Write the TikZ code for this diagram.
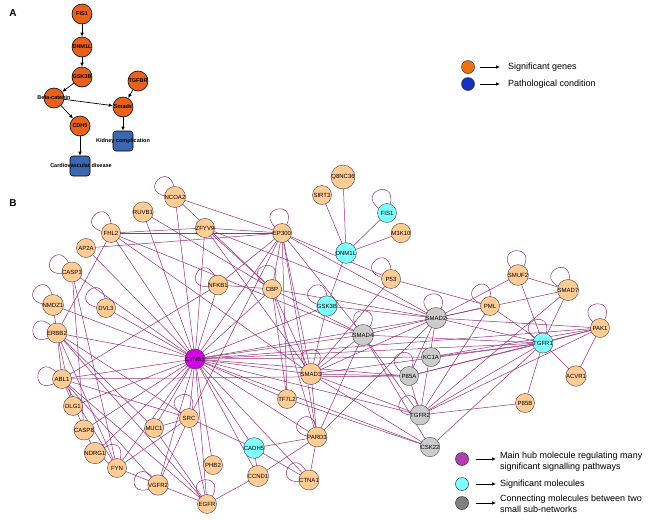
\documentclass[tikz,border=0pt]{standalone}
\usepackage{fontspec}
\setmainfont{Liberation Sans}
\usetikzlibrary{arrows.meta}
\definecolor{aorange}{RGB}{232,98,30}
\definecolor{ablue}{RGB}{60,104,178}
\definecolor{legorange}{RGB}{240,110,20}
\definecolor{legblue}{RGB}{20,50,190}
\definecolor{peach}{RGB}{255,204,150}
\definecolor{hubpurple}{RGB}{212,0,232}
\definecolor{cyanish}{RGB}{128,255,255}
\definecolor{grayish}{RGB}{204,204,204}
\definecolor{legpurple}{RGB}{176,64,176}
\definecolor{leggray}{RGB}{128,128,128}
\definecolor{edgecol}{RGB}{150,45,125}
\begin{document}
\begin{tikzpicture}[x=1pt,y=1pt,
  an/.style={circle,draw=black,line width=0.6pt,fill=aorange,minimum size=20pt,inner sep=0pt,font=\fontsize{5.5}{5.5}\selectfont\bfseries},
  arect/.style={rectangle,rounded corners=3pt,draw=black,line width=0.6pt,fill=ablue,minimum size=20pt,inner sep=0pt},
  alab/.style={font=\fontsize{5.5}{5.5}\selectfont\bfseries,inner sep=0pt},
  aarr/.style={draw=black,line width=0.7pt,-{Latex[length=4pt,width=3.5pt]}},
  gn/.style={circle,draw=black!75,line width=0.4pt,minimum size=19pt,inner sep=0pt,font=\fontsize{6}{6}\selectfont},
  og/.style={gn,fill=peach},
  hb/.style={gn,fill=hubpurple},
  cy/.style={gn,fill=cyanish},
  gy/.style={gn,fill=grayish},
  ed/.style={draw=edgecol,line width=0.5pt},
  legc/.style={circle,draw=black!80,line width=0.5pt,minimum size=13pt,inner sep=0pt},
  legarr/.style={draw=black,line width=0.7pt,-{Latex[length=4pt,width=3.5pt]}},
  legt/.style={font=\fontsize{9}{11}\selectfont,anchor=west,align=left,inner sep=0pt},
  plab/.style={font=\fontsize{10}{10}\selectfont\bfseries}
]
\useasboundingbox (0,0) rectangle (661,-520);

% ---------- Panel A ----------
\node[plab] (labA) at (13,-13) {A};
\node[an] (afis1) at (82,-14) {FIS1};
\node[an] (adnm1l) at (82,-47) {DNM1L};
\node[an] (agsk3b) at (82,-77) {GSK3B};
\node[an] (atgfbr) at (138,-81) {TGFBR};
\node[an] (abeta) at (54,-98) {};
\node[alab] (abetal) at (54,-98) {Beta-catenin};
\node[an] (asmads) at (123,-107) {Smads};
\node[an] (acdh5) at (80,-126) {CDH5};
\node[arect] (akid) at (123,-141) {};
\node[alab] (akidl) at (123,-141) {Kidney complication};
\node[arect] (acard) at (80,-166) {};
\node[alab] (acardl) at (81,-166) {Cardiovascular disease};
\draw[aarr] (afis1) -- (adnm1l);
\draw[aarr] (adnm1l) -- (agsk3b);
\draw[aarr] (agsk3b) -- (abeta);
\draw[aarr] (atgfbr) -- (asmads);
\draw[aarr] (abeta) -- (asmads);
\draw[aarr] (abeta) -- (acdh5);
\draw[aarr] (asmads) -- (akid);
\draw[aarr] (acdh5) -- (acard);

% legend A
\node[legc,fill=legorange] (lga1) at (468,-67) {};
\node[legc,fill=legblue] (lga2) at (468,-84) {};
\coordinate (lga1s) at (480,-67); \coordinate (lga1e) at (500,-67);
\coordinate (lga2s) at (480,-84); \coordinate (lga2e) at (500,-84);
\draw[legarr] (lga1s) -- (lga1e);
\draw[legarr] (lga2s) -- (lga2e);
\node[legt] (lgat1) at (508,-67) {Significant genes};
\node[legt] (lgat2) at (508,-84) {Pathological condition};

% ---------- Panel B ----------
\node[plab] (labB) at (13,-203) {B};

\foreach \n/\x/\y in {ncoa2/175/197, ruvb1/143/212, zfyv9/205/228, fhl2/111/233, ap2a/86/248,
  casp3/72/272, nfkb1/218/285, nmdz1/53/305, dvl3/106/308, erbb2/57/333, ctnb1/195/359,
  abl1/62/379, dlg1/73/406, src/189/418, muc1/154/428, casp8/84/430, ndrg1/95/453, fyn/117/468,
  phb2/213/465, vgfr2/158/485, egfr/207/504, cadh5/254/448, ccnd1/258/476, ctna1/309/480,
  pard3/317/437, tf7l2/287/399, smad3/311/374, q8nc36/343/177, sirt3/322/195, fis1/387/213,
  m3k10/401/233, ep300/282/233, dnm1l/346/253, p53/391/279, cbp/272/289, gsk3b/327/306,
  smad4/363/335, smad2/436/318, kc1a/431/357, p85a/409/376, tgfr2/420/415, csk22/430/447,
  smuf2/518/275, smad7/568/290, pml/490/306, pak1/600/328, tgfr1/543/343, acvr1/576/376,
  p85b/525/403}
  {\coordinate (c\n) at (\x,-\y);}

% edges
\foreach \t in {ncoa2,ruvb1,zfyv9,fhl2,ap2a,casp3,nfkb1,nmdz1,dvl3,erbb2,abl1,dlg1,casp8,ndrg1,
  fyn,muc1,src,vgfr2,egfr,phb2,cadh5,ccnd1,ctna1,pard3,tf7l2,smad3,smad4,cbp,ep300,gsk3b,
  smad2,p85a,tgfr2,csk22,tgfr1,pak1,kc1a}
  {\draw[ed] (cctnb1) -- (c\t);}
\foreach \a/\b in {fhl2/zfyv9, fhl2/ep300, fhl2/erbb2, fhl2/smad4, fhl2/smad3,
  ap2a/ep300, ncoa2/ep300, ncoa2/cbp, ruvb1/cbp,
  zfyv9/ep300, zfyv9/smad2, zfyv9/smad3, zfyv9/cbp,
  nfkb1/ep300, nfkb1/abl1, nfkb1/cbp,
  ep300/smad3, ep300/smad2, ep300/smad4, ep300/cbp, ep300/tf7l2, ep300/p53, ep300/src, ep300/pard3,
  cbp/smad3, cbp/smad2, cbp/smad4, cbp/tf7l2, cbp/pard3,
  dnm1l/fis1, dnm1l/sirt3, dnm1l/q8nc36, dnm1l/m3k10, dnm1l/gsk3b,
  gsk3b/smad2, gsk3b/smad3, p53/pml, p53/smad3,
  smad4/smad2, smad4/smad3, smad4/tgfr1, smad4/tgfr2, smad4/pard3, smad4/csk22,
  smad2/smad3, smad2/tgfr1, smad2/tgfr2, smad2/pak1, smad2/smuf2, smad2/smad7, smad2/pml,
  smad2/p85a, smad2/pard3,
  pml/tgfr1, pml/tgfr2, smuf2/smad7, smuf2/tgfr1, smad7/tgfr1, smad7/tgfr2,
  pak1/tgfr1, pak1/acvr1, pak1/tgfr2, pak1/p85a, pak1/kc1a,
  tgfr1/acvr1, tgfr1/p85b, tgfr1/tgfr2, tgfr1/p85a, tgfr1/kc1a, tgfr1/csk22, tgfr1/smad3,
  tgfr2/p85b, tgfr2/p85a, tgfr2/smad3, csk22/smad3, csk22/tf7l2,
  p85a/smad3, p85a/abl1, smad3/pard3,
  pard3/cadh5, pard3/ctna1, pard3/ccnd1, ctna1/cadh5, ccnd1/egfr, ccnd1/cadh5, cadh5/src,
  egfr/src, egfr/abl1, egfr/erbb2, egfr/fyn, egfr/muc1,
  vgfr2/src, vgfr2/abl1, fyn/src, fyn/abl1, fyn/erbb2, fyn/casp3,
  src/abl1, src/erbb2, src/muc1, muc1/erbb2, abl1/erbb2, erbb2/nmdz1,
  casp3/casp8, dlg1/erbb2, ndrg1/abl1}
  {\draw[ed] (c\a) -- (c\b);}

% self loops (drawn from centre coordinates, hidden under the nodes)
\newcommand\mkcloop[2]{%
  \pgfmathsetmacro\myLo{#2-45}\pgfmathsetmacro\myLi{#2+45}%
  \draw[ed] (c#1) .. controls +(\myLo:46pt) and +(\myLi:46pt) .. (c#1);}
\foreach \n/\a in {ncoa2/135, fhl2/130, casp3/150, nmdz1/135, dvl3/135, erbb2/170, abl1/170,
  fyn/110, vgfr2/165, src/110, egfr/95, nfkb1/150, ep300/100, cbp/110, gsk3b/130, smad4/90,
  smad2/100, p53/130, pml/125, smuf2/95, smad7/120, pak1/100, tgfr1/110, p85a/110, tgfr2/140,
  smad3/90, pard3/135, ctna1/150, fis1/110}
  {\mkcloop{\n}{\a}}

% nodes
\node[og] (ncoa2) at (cncoa2) {NCOA2};
\node[og] (ruvb1) at (cruvb1) {RUVB1};
\node[og] (zfyv9) at (czfyv9) {ZFYV9};
\node[og] (fhl2) at (cfhl2) {FHL2};
\node[og] (ap2a) at (cap2a) {AP2A};
\node[og] (casp3) at (ccasp3) {CASP3};
\node[og] (nfkb1) at (cnfkb1) {NFKB1};
\node[og] (nmdz1) at (cnmdz1) {NMDZ1};
\node[og] (dvl3) at (cdvl3) {DVL3};
\node[og] (erbb2) at (cerbb2) {ERBB2};
\node[hb] (ctnb1) at (cctnb1) {CTNB1};
\node[og] (abl1) at (cabl1) {ABL1};
\node[og] (dlg1) at (cdlg1) {DLG1};
\node[og] (src) at (csrc) {SRC};
\node[og] (muc1) at (cmuc1) {MUC1};
\node[og] (casp8) at (ccasp8) {CASP8};
\node[og] (ndrg1) at (cndrg1) {NDRG1};
\node[og] (fyn) at (cfyn) {FYN};
\node[og] (phb2) at (cphb2) {PHB2};
\node[og] (vgfr2) at (cvgfr2) {VGFR2};
\node[og] (egfr) at (cegfr) {EGFR};
\node[cy] (cadh5) at (ccadh5) {CADH5};
\node[og] (ccnd1) at (cccnd1) {CCND1};
\node[og] (ctna1) at (cctna1) {CTNA1};
\node[og] (pard3) at (cpard3) {PARD3};
\node[og] (tf7l2) at (ctf7l2) {TF7L2};
\node[og] (smad3) at (csmad3) {SMAD3};
\node[og] (q8nc36) at (cq8nc36) {Q8NC36};
\node[og] (sirt3) at (csirt3) {SIRT3};
\node[cy] (fis1) at (cfis1) {FIS1};
\node[og] (m3k10) at (cm3k10) {M3K10};
\node[og] (ep300) at (cep300) {EP300};
\node[cy] (dnm1l) at (cdnm1l) {DNM1L};
\node[og] (p53) at (cp53) {P53};
\node[og] (cbp) at (ccbp) {CBP};
\node[cy] (gsk3b) at (cgsk3b) {GSK3B};
\node[gy] (smad4) at (csmad4) {SMAD4};
\node[gy] (smad2) at (csmad2) {SMAD2};
\node[gy] (kc1a) at (ckc1a) {KC1A};
\node[gy] (p85a) at (cp85a) {P85A};
\node[gy] (tgfr2) at (ctgfr2) {TGFR2};
\node[gy] (csk22) at (ccsk22) {CSK22};
\node[og] (smuf2) at (csmuf2) {SMUF2};
\node[og] (smad7) at (csmad7) {SMAD7};
\node[og] (pml) at (cpml) {PML};
\node[og] (pak1) at (cpak1) {PAK1};
\node[cy] (tgfr1) at (ctgfr1) {TGFR1};
\node[og] (acvr1) at (cacvr1) {ACVR1};
\node[og] (p85b) at (cp85b) {P85B};

% legend B
\node[legc,fill=legpurple] (lgb1) at (462,-459) {};
\node[legc,fill=cyanish] (lgb2) at (462,-484) {};
\node[legc,fill=leggray] (lgb3) at (462,-503) {};
\coordinate (lgb1s) at (476,-459); \coordinate (lgb1e) at (496,-459);
\coordinate (lgb2s) at (476,-484); \coordinate (lgb2e) at (496,-484);
\coordinate (lgb3s) at (476,-503); \coordinate (lgb3e) at (496,-503);
\draw[legarr] (lgb1s) -- (lgb1e);
\draw[legarr] (lgb2s) -- (lgb2e);
\draw[legarr] (lgb3s) -- (lgb3e);
\node[legt,anchor=north west] (lgbt1) at (500,-452) {Main hub molecule regulating many\\significant signalling pathways};
\node[legt] (lgbt2) at (500,-484) {Significant molecules};
\node[legt,anchor=north west] (lgbt3) at (500,-495) {Connecting molecules between two\\small sub-networks};
\end{tikzpicture}
\end{document}
